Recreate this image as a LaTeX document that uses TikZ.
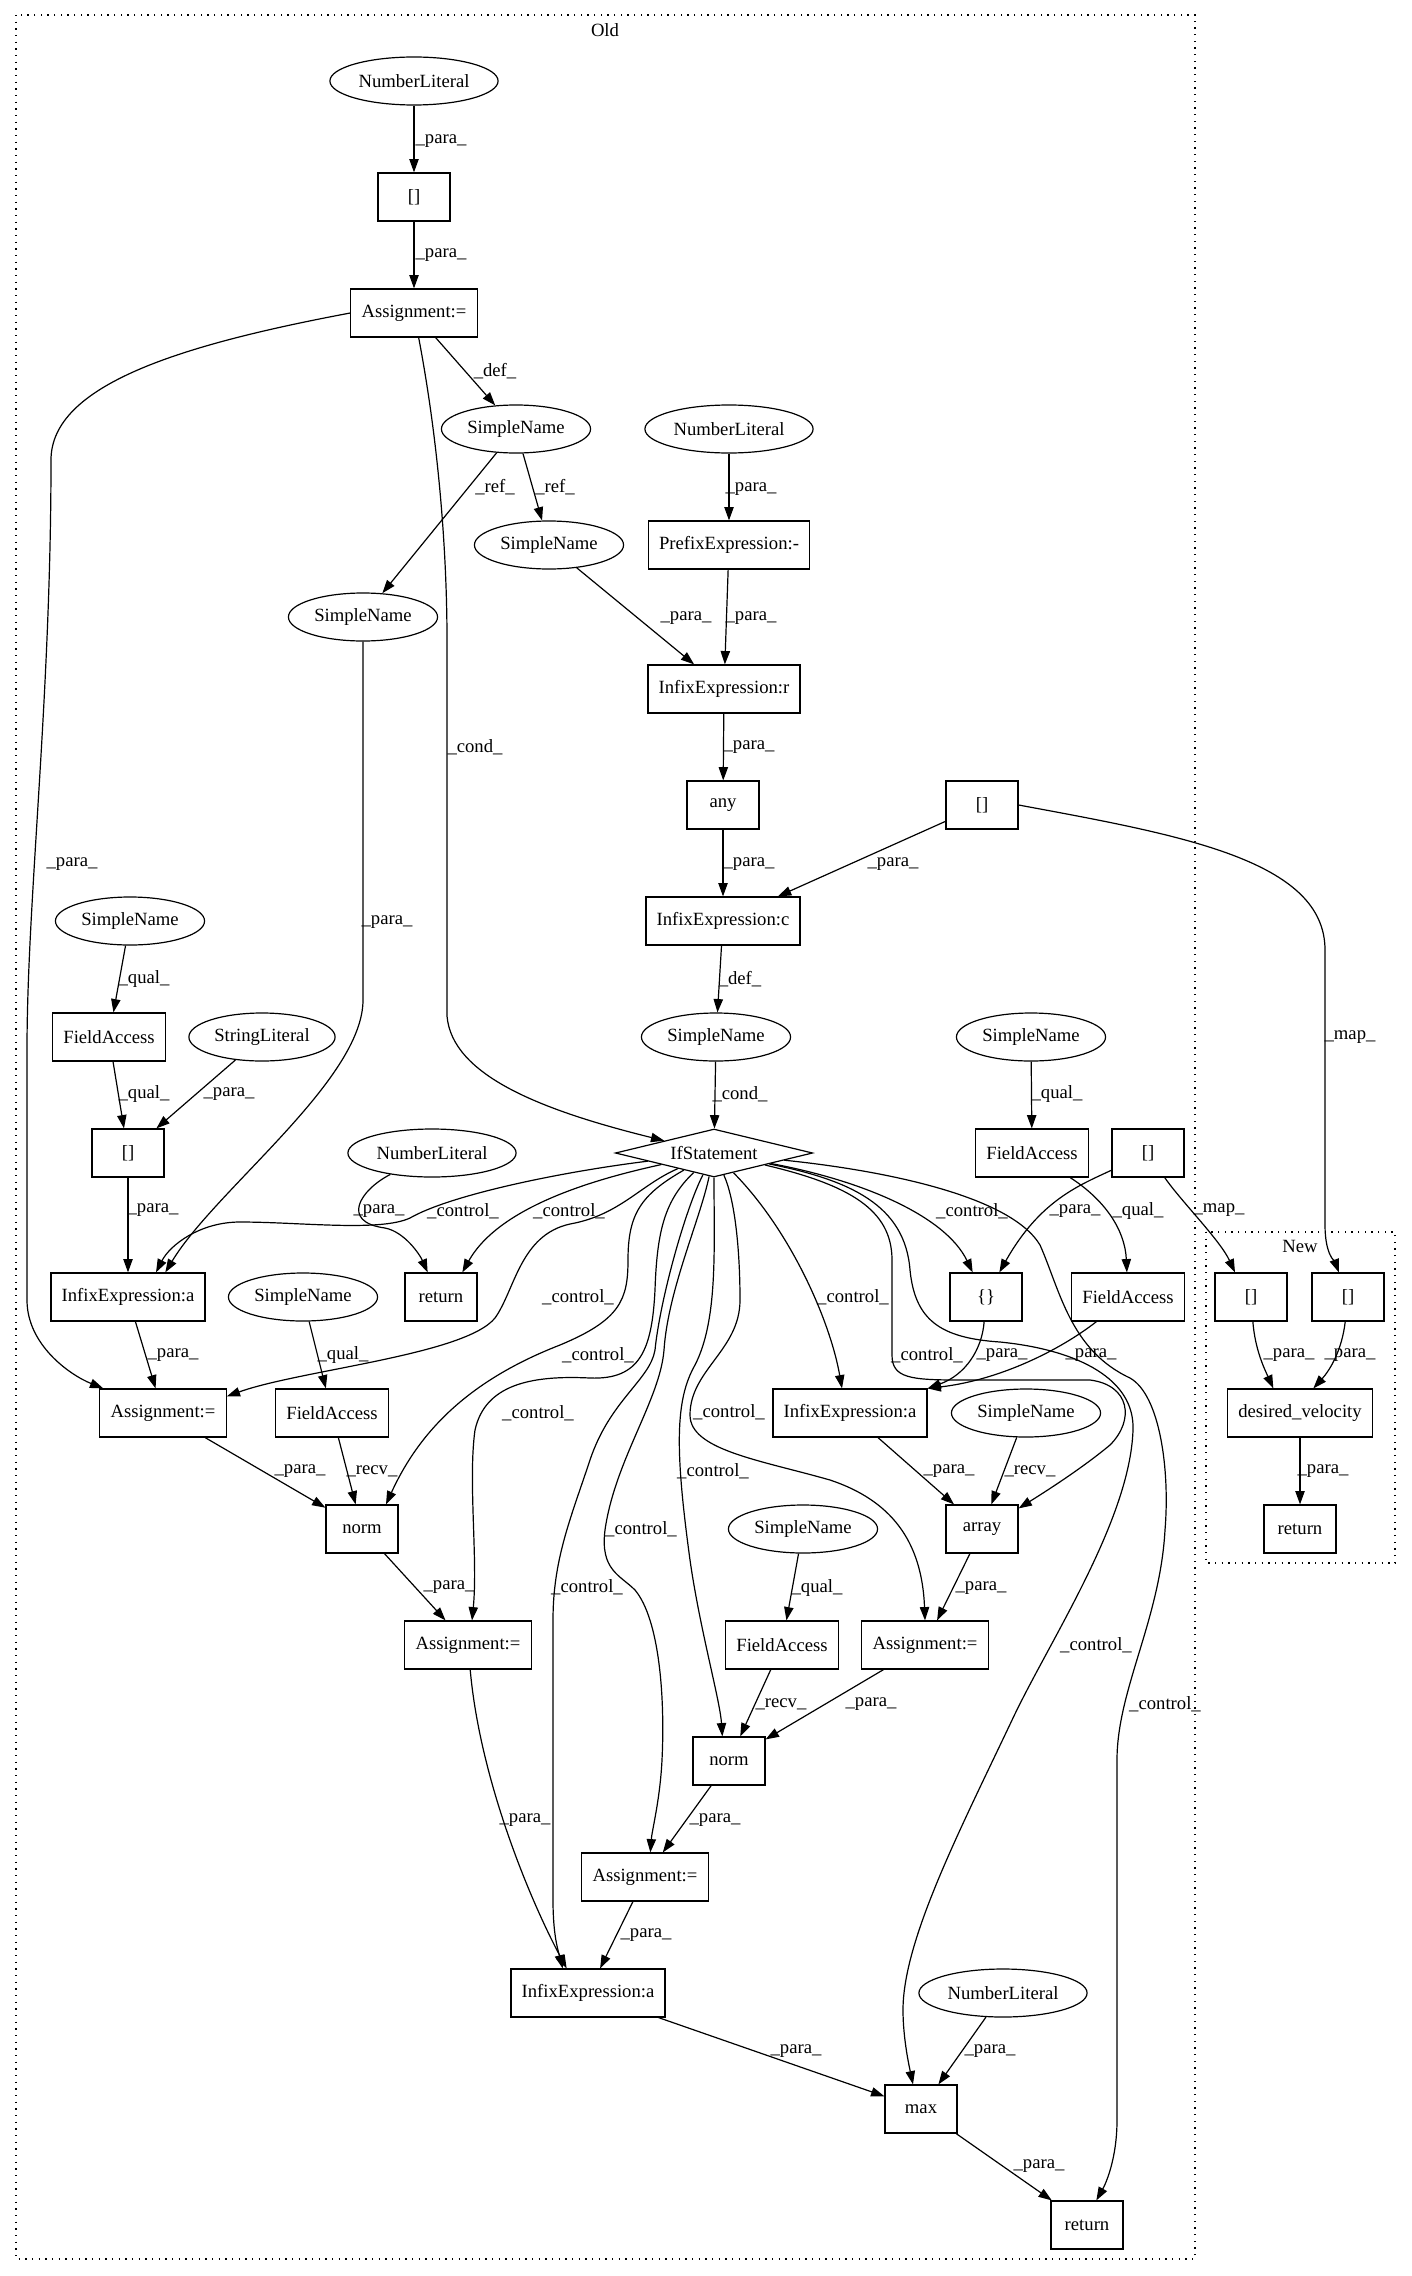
\documentclass[tikz,border=0pt]{standalone}
\usepackage{fontspec}
\setmainfont{Liberation Serif}
\usetikzlibrary{arrows.meta,shapes.geometric}
\tikzset{
    ast_box/.style={draw, rectangle, line width=0.9pt, minimum width=54pt, minimum height=36pt,
        inner xsep=8pt, inner ysep=0pt, font=\fontsize{14}{16}\selectfont},
    ast_leaf/.style={draw, ellipse, line width=0.9pt, minimum height=36pt,
        inner xsep=3pt, inner ysep=0pt, font=\fontsize{14}{16}\selectfont},
    % IfStatement: flat diamond
    ast_cond/.style={draw, diamond, aspect=4, line width=0.9pt, minimum width=148pt, minimum height=36pt,
        inner sep=0pt, font=\fontsize{14}{16}\selectfont},
    ast_edge/.style={draw, line width=0.9pt, -{Triangle[length=10pt,width=7pt]}},
    ast_lbl/.style={inner sep=0pt, font=\fontsize{14}{16}\selectfont},
    ast_cluster/.style={draw, line width=0.9pt, dash pattern=on 1pt off 4pt},
}
\begin{document}
\begin{tikzpicture}[x=0.75pt, y=-0.75pt]
    \useasboundingbox (0,0) rectangle (1411,2276);
    % Clusters
    \draw[ast_cluster] (16,15) rectangle (1195,2259);
    \node[ast_lbl] (old_lbl) at (605,30) {Old};
    \draw[ast_cluster] (1206,1232) rectangle (1395,1563);
    \node[ast_lbl] (new_lbl) at (1300,1246) {New};

    % Old: upper part
    \node[ast_leaf] (nl1)  at (414,81)   {NumberLiteral};
    \node[ast_box]  (br1)  at (414,197)  {[]};
    \node[ast_box]  (asg1) at (414,313)  {Assignment:=};
    \node[ast_leaf] (sn1)  at (516,429)  {SimpleName};
    \node[ast_leaf] (nl2)  at (729,429)  {NumberLiteral};
    \node[ast_leaf] (sn2)  at (549,545)  {SimpleName};
    \node[ast_box]  (pre)  at (729,545)  {PrefixExpression:-};
    \node[ast_leaf] (sn3)  at (363,617)  {SimpleName};
    \node[ast_box]  (infr) at (724,689)  {InfixExpression:r};
    \node[ast_box]  (any)  at (723,805)  {any};
    \node[ast_box]  (br2)  at (982,805)  {[]};
    \node[ast_box]  (infc) at (723,921)  {InfixExpression:c};
    \node[ast_leaf] (sn4)  at (130,921)  {SimpleName};
    \node[ast_box]  (fa1)  at (109,1037) {FieldAccess};
    \node[ast_leaf] (str)  at (262,1037) {StringLiteral};
    \node[ast_leaf] (sn5)  at (716,1037) {SimpleName};
    \node[ast_leaf] (sn6)  at (1031,1037) {SimpleName};

    % Old: IfStatement row
    \node[ast_box]  (br3)  at (128,1153) {[]};
    \node[ast_leaf] (nl3)  at (432,1153) {NumberLiteral};
    \node[ast_cond] (ifs)  at (714,1153) {IfStatement};
    \node[ast_box]  (fa2)  at (1032,1153) {FieldAccess};
    \node[ast_box]  (br4)  at (1148,1153) {[]};

    % Old: lower part
    \node[ast_box]  (infa1) at (128,1297) {InfixExpression:a};
    \node[ast_leaf] (sn7)   at (303,1297) {SimpleName};
    \node[ast_box]  (ret1)  at (441,1297) {return};
    \node[ast_box]  (cur)   at (986,1297) {\{\}};
    \node[ast_box]  (fa3)   at (1128,1297) {FieldAccess};
    \node[ast_box]  (asg2)  at (163,1413) {Assignment:=};
    \node[ast_box]  (fa4)   at (332,1413) {FieldAccess};
    \node[ast_box]  (infa2) at (850,1413) {InfixExpression:a};
    \node[ast_leaf] (sn8)   at (1026,1413) {SimpleName};
    \node[ast_box]  (norm1) at (362,1529) {norm};
    \node[ast_leaf] (sn9)   at (803,1529) {SimpleName};
    \node[ast_box]  (arr)   at (982,1529) {array};
    \node[ast_box]  (asg3)  at (468,1645) {Assignment:=};
    \node[ast_box]  (fa5)   at (782,1645) {FieldAccess};
    \node[ast_box]  (asg4)  at (925,1645) {Assignment:=};
    \node[ast_box]  (norm2) at (729,1761) {norm};
    \node[ast_box]  (asg5)  at (645,1877) {Assignment:=};
    \node[ast_box]  (infa3) at (588,1993) {InfixExpression:a};
    \node[ast_leaf] (nl4)   at (1003,1993) {NumberLiteral};
    \node[ast_box]  (max)   at (921,2109) {max};
    \node[ast_box]  (ret2)  at (1087,2225) {return};

    % New
    \node[ast_box] (br5) at (1251,1297) {[]};
    \node[ast_box] (br6) at (1348,1297) {[]};
    \node[ast_box] (dv)  at (1300,1413) {desired\_velocity};
    \node[ast_box] (ret3) at (1300,1529) {return};

    % Edges: upper part
    \draw[ast_edge] (nl1) -- (br1) node[ast_lbl] at (441,141) {\_para\_};
    \draw[ast_edge] (br1) -- (asg1) node[ast_lbl] at (441,255) {\_para\_};
    \draw[ast_edge] (asg1) -- (sn1) node[ast_lbl] at (495,371) {\_def\_};
    \draw[ast_edge] (asg1.west) .. controls (180,345) and (51,385) .. (51,460)
        .. controls (51,700) and (27,900) .. (27,1050) -- (27,1300)
        .. controls (27,1345) and (70,1375) .. ([xshift=3pt]asg2.north west)
        node[ast_lbl] at (72,864) {\_para\_};
    \draw[ast_edge] (asg1) .. controls (440,450) and (447,560) .. (447,640) -- (447,1016)
        .. controls (452,1075) and (540,1110) .. (ifs)
        node[ast_lbl] at (475,747) {\_cond\_};
    \draw[ast_edge] (sn1) -- (sn3) node[ast_lbl] at (495,487) {\_ref\_};
    \draw[ast_edge] (sn1) -- (sn2) node[ast_lbl] at (555,487) {\_ref\_};
    \draw[ast_edge] (nl2) -- (pre) node[ast_lbl] at (751,489) {\_para\_};
    \draw[ast_edge] (sn2) -- (infr) node[ast_lbl] at (686,618) {\_para\_};
    \draw[ast_edge] (pre) -- (infr) node[ast_lbl] at (751,618) {\_para\_};
    \draw[ast_edge] (infr) -- (any) node[ast_lbl] at (749,747) {\_para\_};
    \draw[ast_edge] (any) -- (infc) node[ast_lbl] at (749,864) {\_para\_};
    \draw[ast_edge] (br2) -- (infc) node[ast_lbl] at (893,864) {\_para\_};
    \draw[ast_edge] (br2.east) .. controls (1180,835) and (1325,860) .. (1325,950) -- (1325,1225)
        .. controls (1325,1255) and (1335,1262) .. (br6)
        node[ast_lbl] at (1350,1037) {\_map\_};
    \draw[ast_edge] (infc) -- (sn5) node[ast_lbl] at (740,979) {\_def\_};
    \draw[ast_edge] (sn5) -- (ifs) node[ast_lbl] at (740,1094) {\_cond\_};
    \draw[ast_edge] (sn3) -- (363,1000) .. controls (363,1080) and (215,1190) .. ([xshift=28pt]infa1.north)
        node[ast_lbl] at (387,922) {\_para\_};
    \draw[ast_edge] (sn4) -- (fa1) node[ast_lbl] at (144,979) {\_qual\_};
    \draw[ast_edge] (fa1) -- (br3) node[ast_lbl] at (144,1094) {\_qual\_};
    \draw[ast_edge] (str) -- (br3) node[ast_lbl] at (229,1094) {\_para\_};
    \draw[ast_edge] (sn6) -- (fa2) node[ast_lbl] at (1057,1094) {\_qual\_};
    \draw[ast_edge] (br3) -- (infa1) node[ast_lbl] at (153,1210) {\_para\_};

    % Edges: control from IfStatement, left side
    \draw[ast_edge] (ifs) .. controls (560,1172) and (450,1195) .. (410,1218)
        .. controls (380,1232) and (300,1222) .. (240,1222)
        .. controls (200,1222) and (170,1245) .. ([xshift=21pt]infa1.north)
        node[ast_lbl] at (463,1211) {\_control\_};
    \draw[ast_edge] (nl3) .. controls (360,1190) and (340,1222) .. (385,1228)
        .. controls (405,1232) and (420,1255) .. ([xshift=-10pt]ret1.north)
        node[ast_lbl] at (379,1211) {\_para\_};
    \draw[ast_edge] (ifs) .. controls (600,1178) and (500,1205) .. ([xshift=16pt]ret1.north)
        node[ast_lbl] at (569,1211) {\_control\_};
    \draw[ast_edge] (ifs) .. controls (640,1185) and (620,1215) .. (570,1224)
        .. controls (520,1235) and (515,1290) .. (495,1318)
        .. controls (465,1355) and (300,1370) .. ([yshift=-6pt]asg2.north east)
        node[ast_lbl] at (578,1297) {\_control\_};
    \draw[ast_edge] (ifs) .. controls (640,1195) and (628,1215) .. (628,1260)
        .. controls (628,1300) and (620,1320) .. (560,1345)
        .. controls (470,1380) and (420,1430) .. ([xshift=18pt]norm1.north)
        node[ast_lbl] at (598,1355) {\_control\_};
    \draw[ast_edge] (ifs) .. controls (665,1200) and (657,1230) .. (655,1290)
        .. controls (652,1350) and (640,1380) .. (590,1378)
        .. controls (530,1375) and (485,1385) .. (475,1430)
        .. controls (468,1480) and (478,1560) .. ([xshift=3pt]asg3.north)
        node[ast_lbl] at (538,1413) {\_control\_};
    \draw[ast_edge] (ifs) .. controls (685,1210) and (660,1300) .. (655,1350)
        .. controls (650,1380) and (610,1400) .. (590,1460)
        .. controls (570,1520) and (553,1560) .. (553,1620) -- (553,1900)
        .. controls (553,1935) and (558,1950) .. ([xshift=-19pt]infa3.north)
        node[ast_lbl] at (587,1587) {\_control\_};
    \draw[ast_edge] (ifs) .. controls (700,1220) and (668,1290) .. (664,1350)
        .. controls (660,1400) and (615,1460) .. (605,1530)
        .. controls (600,1570) and (620,1575) .. (635,1590)
        .. controls (660,1620) and (665,1700) .. (662,1760)
        .. controls (660,1800) and (652,1830) .. ([xshift=4pt]asg5.north)
        node[ast_lbl] at (641,1529) {\_control\_};
    \draw[ast_edge] (ifs) .. controls (714,1250) and (718,1320) .. (695,1365)
        .. controls (675,1400) and (675,1450) .. (690,1560)
        .. controls (700,1630) and (720,1700) .. ([xshift=-5pt]norm2.north)
        node[ast_lbl] at (713,1471) {\_control\_};
    \draw[ast_edge] (ifs) .. controls (735,1200) and (740,1250) .. (740,1300)
        .. controls (740,1350) and (690,1370) .. (690,1415)
        .. controls (690,1450) and (760,1460) .. (830,1480)
        .. controls (890,1500) and (922,1540) .. (asg4.north)
        node[ast_lbl] at (729,1412) {\_control\_};

    % Edges: control from IfStatement, right side
    \draw[ast_edge] (ifs) .. controls (790,1230) and (830,1320) .. ([xshift=-6pt]infa2.north)
        node[ast_lbl] at (853,1297) {\_control\_};
    \draw[ast_edge] (ifs) .. controls (860,1180) and (945,1215) .. ([xshift=-10pt]cur.north)
        node[ast_lbl] at (972,1211) {\_control\_};
    \draw[ast_edge] (ifs) .. controls (850,1185) and (892,1210) .. (892,1260) -- (892,1355)
        .. controls (892,1378) and (910,1380) .. (960,1380) -- (1090,1380)
        .. controls (1130,1385) and (1135,1420) .. (1110,1445)
        .. controls (1080,1470) and (1040,1495) .. ([yshift=-3pt]arr.north east)
        node[ast_lbl] at (927,1355) {\_control\_};
    \draw[ast_edge] (ifs) .. controls (850,1180) and (905,1205) .. (910,1270)
        .. controls (915,1320) and (940,1338) .. (1000,1342)
        .. controls (1080,1350) and (1135,1380) .. (1133,1430)
        .. controls (1130,1520) and (1050,1640) .. (1013,1718)
        .. controls (960,1830) and (903,1940) .. (903,2010)
        .. controls (903,2040) and (910,2070) .. ([xshift=-6pt]max.north)
        node[ast_lbl] at (1096,1645) {\_control\_};
    \draw[ast_edge] (ifs) .. controls (880,1170) and (1010,1195) .. (1040,1245)
        .. controls (1060,1290) and (1070,1350) .. (1130,1378)
        .. controls (1160,1395) and (1170,1470) .. (1165,1530)
        .. controls (1160,1620) and (1117,1690) .. (1117,1760) -- (1117,2120)
        .. controls (1117,2160) and (1105,2185) .. ([xshift=7pt]ret2.north)
        node[ast_lbl] at (1165,1704) {\_control\_};

    % Edges: lower part
    \draw[ast_edge] (br4) .. controls (1080,1185) and (1040,1200) .. ([xshift=10pt]cur.north)
        node[ast_lbl] at (1075,1211) {\_para\_};
    \draw[ast_edge] (fa2) .. controls (1105,1200) and (1125,1230) .. (fa3)
        node[ast_lbl] at (1138,1211) {\_qual\_};
    \draw[ast_edge] (br4) .. controls (1180,1200) and (1220,1240) .. ([xshift=-12pt]br5.north)
        node[ast_lbl] at (1219,1210) {\_map\_};
    \draw[ast_edge] (cur) .. controls (982,1350) and (965,1375) .. (infa2.north east)
        node[ast_lbl] at (1002,1355) {\_para\_};
    \draw[ast_edge] (fa3) .. controls (1060,1350) and (1000,1380) .. (infa2.north east)
        node[ast_lbl] at (1091,1355) {\_para\_};
    \draw[ast_edge] (infa1) -- (asg2) node[ast_lbl] at (173,1355) {\_para\_};
    \draw[ast_edge] (sn7) -- (fa4) node[ast_lbl] at (343,1355) {\_qual\_};
    \draw[ast_edge] (asg2) -- (norm1) node[ast_lbl] at (300,1471) {\_para\_};
    \draw[ast_edge] (fa4) -- (norm1) node[ast_lbl] at (372,1471) {\_recv\_};
    \draw[ast_edge] (infa2) -- (arr) node[ast_lbl] at (949,1471) {\_para\_};
    \draw[ast_edge] (sn8) -- (arr) node[ast_lbl] at (1030,1471) {\_recv\_};
    \draw[ast_edge] (norm1) -- (asg3) node[ast_lbl] at (449,1587) {\_para\_};
    \draw[ast_edge] (sn9) -- (fa5) node[ast_lbl] at (817,1588) {\_qual\_};
    \draw[ast_edge] (arr) -- (asg4) node[ast_lbl] at (981,1588) {\_para\_};
    \draw[ast_edge] (fa5) -- (norm2) node[ast_lbl] at (781,1704) {\_recv\_};
    \draw[ast_edge] (asg4) -- (norm2) node[ast_lbl] at (871,1704) {\_para\_};
    \draw[ast_edge] (norm2) -- (asg5) node[ast_lbl] at (715,1820) {\_para\_};
    \draw[ast_edge] (asg3) .. controls (480,1780) and (530,1900) .. ([xshift=-16pt]infa3.north)
        node[ast_lbl] at (525,1820) {\_para\_};
    \draw[ast_edge] (asg5) -- (infa3) node[ast_lbl] at (646,1935) {\_para\_};
    \draw[ast_edge] (infa3) -- (max) node[ast_lbl] at (796,2051) {\_para\_};
    \draw[ast_edge] (nl4) -- (max) node[ast_lbl] at (990,2051) {\_para\_};
    \draw[ast_edge] (max) -- (ret2) node[ast_lbl] at (1039,2166) {\_para\_};

    % Edges: New
    \draw[ast_edge] (br5) .. controls (1255,1350) and (1265,1370) .. ([xshift=-20pt]dv.north)
        node[ast_lbl] at (1289,1355) {\_para\_};
    \draw[ast_edge] (br6) .. controls (1342,1350) and (1330,1370) .. ([xshift=10pt]dv.north)
        node[ast_lbl] at (1350,1355) {\_para\_};
    \draw[ast_edge] (dv) -- (ret3) node[ast_lbl] at (1323,1471) {\_para\_};
\end{tikzpicture}
\end{document}
